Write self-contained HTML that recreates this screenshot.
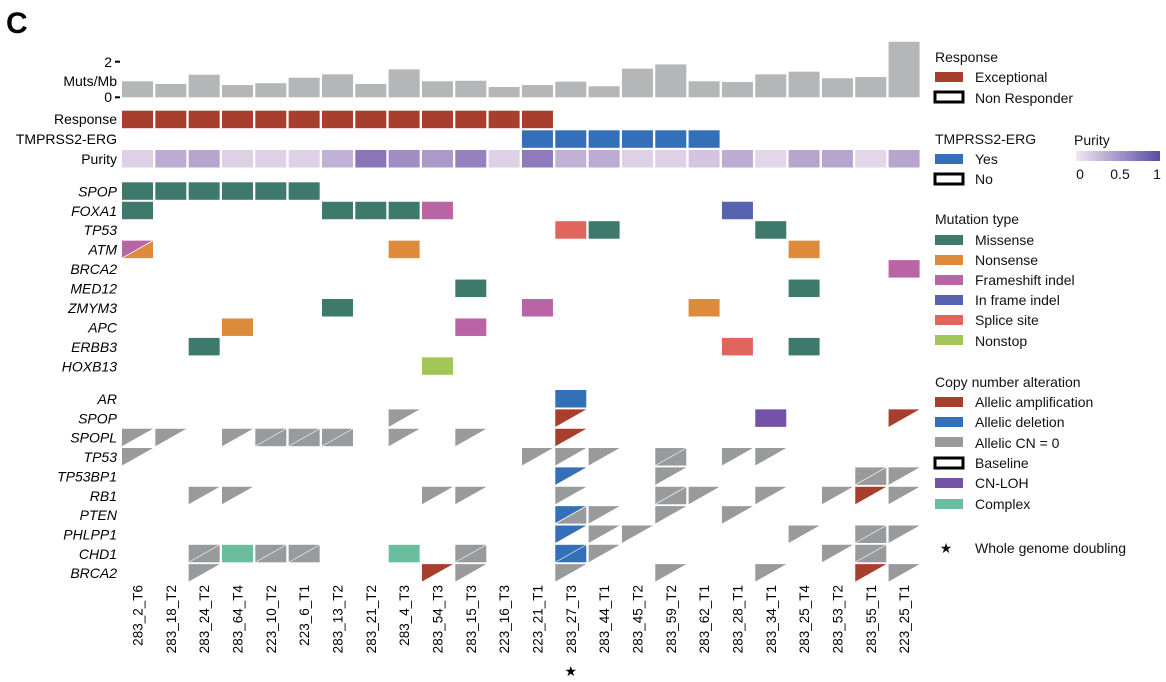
<!DOCTYPE html>
<html><head><meta charset="utf-8">
<style>
body{margin:0;background:#fff;}
svg{display:block;font-family:"Liberation Sans",Arial,sans-serif;}
</style></head>
<body>
<svg id="chart" width="1166" height="682" viewBox="0 0 1166 682" xmlns="http://www.w3.org/2000/svg">
<text x="6" y="33" font-size="30" font-weight="bold">C</text>
<g id="plot"></g>
<g id="legend" font-size="14" fill="#111">
  <text x="935" y="62">Response</text>
  <rect x="935" y="72" width="28" height="10" fill="#a83e2d"/>
  <text x="975" y="82">Exceptional</text>
  <rect x="935" y="92" width="28" height="10" fill="#fff" stroke="#000" stroke-width="3"/>
  <text x="975" y="103">Non Responder</text>

  <text x="935" y="144">TMPRSS2-ERG</text>
  <rect x="935" y="154" width="28" height="10" fill="#3470b8"/>
  <text x="975" y="164">Yes</text>
  <rect x="935" y="174" width="28" height="10" fill="#fff" stroke="#000" stroke-width="3"/>
  <text x="975" y="184">No</text>

  <text x="1074" y="145">Purity</text>
  <defs><linearGradient id="pg" x1="0" x2="1"><stop offset="0" stop-color="#f1e6f1"/><stop offset="1" stop-color="#5a4aa6"/></linearGradient></defs>
  <rect x="1076" y="151" width="84" height="10" fill="url(#pg)"/>
  <text x="1080" y="179" text-anchor="middle">0</text>
  <text x="1120" y="179" text-anchor="middle">0.5</text>
  <text x="1157" y="179" text-anchor="middle">1</text>

  <text x="935" y="224">Mutation type</text>
  <rect x="935" y="235" width="28" height="10" fill="#3d7a6b"/>
  <text x="975" y="245">Missense</text>
  <rect x="935" y="255" width="28" height="10" fill="#dd8a3a"/>
  <text x="975" y="265">Nonsense</text>
  <rect x="935" y="275" width="28" height="10" fill="#b964a4"/>
  <text x="975" y="285">Frameshift indel</text>
  <rect x="935" y="295" width="28" height="10" fill="#5661b0"/>
  <text x="975" y="305">In frame indel</text>
  <rect x="935" y="315" width="28" height="10" fill="#e0665d"/>
  <text x="975" y="325">Splice site</text>
  <rect x="935" y="335" width="28" height="10" fill="#a2c65a"/>
  <text x="975" y="346">Nonstop</text>

  <text x="935" y="387">Copy number alteration</text>
  <rect x="935" y="397" width="28" height="10" fill="#a83e2d"/>
  <text x="975" y="407">Allelic amplification</text>
  <rect x="935" y="417" width="28" height="10" fill="#3470b8"/>
  <text x="975" y="427">Allelic deletion</text>
  <rect x="935" y="437" width="28" height="10" fill="#999a9c"/>
  <text x="975" y="448">Allelic CN = 0</text>
  <rect x="935" y="458" width="28" height="10" fill="#fff" stroke="#000" stroke-width="3"/>
  <text x="975" y="468">Baseline</text>
  <rect x="935" y="478" width="28" height="10" fill="#7452a8"/>
  <text x="975" y="488">CN-LOH</text>
  <rect x="935" y="499" width="28" height="10" fill="#6bbda0"/>
  <text x="975" y="509">Complex</text>

  <text x="946" y="553" text-anchor="middle">★</text>
  <text x="975" y="553">Whole genome doubling</text>
</g>
</svg>
<script>
const samples=["283_2_T6","283_18_T2","283_24_T2","283_64_T4","223_10_T2","223_6_T1","283_13_T2","283_21_T2","283_4_T3","283_54_T3","283_15_T3","223_16_T3","223_21_T1","283_27_T3","283_44_T1","283_45_T2","283_59_T2","283_62_T1","283_28_T1","283_34_T1","283_25_T4","283_53_T2","283_55_T1","223_25_T1"];
const mutsPerMb=[0.9,0.75,1.27,0.69,0.79,1.1,1.29,0.75,1.57,0.9,0.93,0.58,0.69,0.88,0.62,1.61,1.85,0.9,0.86,1.29,1.44,1.07,1.14,3.12];
const responseExceptional=[1,1,1,1,1,1,1,1,1,1,1,1,1,0,0,0,0,0,0,0,0,0,0,0];
const tmprssYes=[0,0,0,0,0,0,0,0,0,0,0,0,1,1,1,1,1,1,0,0,0,0,0,0];
const purity=[0.15,0.45,0.5,0.15,0.15,0.15,0.4,0.9,0.7,0.6,0.8,0.15,0.85,0.4,0.45,0.15,0.15,0.25,0.45,0.1,0.5,0.5,0.1,0.5];
const wgd=[13];
const mutGenes=["SPOP","FOXA1","TP53","ATM","BRCA2","MED12","ZMYM3","APC","ERBB3","HOXB13"];
const mutations=[[0,0,"M"],[0,1,"M"],[0,2,"M"],[0,3,"M"],[0,4,"M"],[0,5,"M"],
[1,0,"M"],[1,6,"M"],[1,7,"M"],[1,8,"M"],[1,9,"F"],[1,18,"I"],
[2,13,"S"],[2,14,"M"],[2,19,"M"],
[3,0,"F","N"],[3,8,"N"],[3,20,"N"],
[4,23,"F"],
[5,10,"M"],[5,20,"M"],
[6,6,"M"],[6,12,"F"],[6,17,"N"],
[7,3,"N"],[7,10,"F"],
[8,2,"M"],[8,18,"S"],[8,20,"M"],
[9,9,"X"]];
const cnGenes=["AR","SPOP","SPOPL","TP53","TP53BP1","RB1","PTEN","PHLPP1","CHD1","BRCA2"];
const cnas=[[0,13,"B","B","solid"],
[1,8,"G"],[1,13,"R"],[1,19,"P","P"],[1,23,"R"],
[2,0,"G"],[2,1,"G"],[2,3,"G"],[2,4,"G","G"],[2,5,"G","G"],[2,6,"G","G"],[2,8,"G"],[2,10,"G"],[2,13,"R"],
[3,0,"G"],[3,12,"G"],[3,13,"G"],[3,14,"G"],[3,16,"G","G"],[3,18,"G"],[3,19,"G"],
[4,13,"B"],[4,16,"G"],[4,22,"G","G"],[4,23,"G"],
[5,2,"G"],[5,3,"G"],[5,9,"G"],[5,10,"G"],[5,13,"G"],[5,16,"G","G"],[5,17,"G"],[5,19,"G"],[5,21,"G"],[5,22,"R"],[5,23,"G"],
[6,13,"B","G"],[6,14,"G"],[6,16,"G"],[6,18,"G"],
[7,13,"B"],[7,14,"G"],[7,15,"G"],[7,20,"G"],[7,22,"G","G"],[7,23,"G"],
[8,2,"G","G"],[8,3,"T","T"],[8,4,"G","G"],[8,5,"G","G"],[8,8,"T","T"],[8,10,"G","G"],[8,13,"B","B"],[8,14,"G"],[8,21,"G"],[8,22,"G","G"],
[9,2,"G"],[9,9,"R"],[9,10,"G"],[9,13,"G"],[9,16,"G"],[9,19,"G"],[9,22,"R"],[9,23,"G"]];

const mutCol={M:"#3d7a6b",N:"#dd8a3a",F:"#b964a4",I:"#5661b0",S:"#e0665d",X:"#a2c65a"};
const cnCol={G:"#999a9c",R:"#a83e2d",B:"#3470b8",P:"#7452a8",T:"#6bbda0"};
const NS="http://www.w3.org/2000/svg";
const g=document.getElementById("plot");
const X0=122,PITCH=33.33,CW=31;
const xPos=i=>X0+i*PITCH;
const barBase=97.3,barScale=17.8;
const yBar=v=>barBase-v*barScale;
const mutTop=182.3,mutPitch=19.45,cnTop=390,cnPitch=19.35,CH=17.5;
function el(t,a,txt){const e=document.createElementNS(NS,t);for(const k in a)e.setAttribute(k,a[k]);if(txt!==undefined)e.textContent=txt;g.appendChild(e);return e;}
function lab(y,t,italic,name){const e=el("text",{x:117,y:y,"text-anchor":"end","font-size":14,"font-style":italic?"italic":"normal"},t);

}
function purCol(p){const a=[238,226,238],b=[128,104,178];return "rgb("+a.map((c,i)=>Math.round(c+(b[i]-c)*p)).join(",")+")";}

el("text",{x:112,y:67,"text-anchor":"end","font-size":14},"2");
el("text",{x:112,y:102,"text-anchor":"end","font-size":14},"0");
el("line",{x1:115,x2:120,y1:yBar(2),y2:yBar(2),stroke:"#000","stroke-width":2});
el("line",{x1:115,x2:120,y1:yBar(0),y2:yBar(0),stroke:"#000","stroke-width":2});
lab(86,"Muts/Mb",false,"y-axis-title");
lab(124,"Response",false,"row-label-response");
lab(144,"TMPRSS2-ERG",false,"row-label-tmprss2");
lab(164,"Purity",false,"row-label-purity");

samples.forEach((s,i)=>{
  const x=xPos(i);
  const b=el("rect",{x:x,y:yBar(mutsPerMb[i]),width:CW,height:mutsPerMb[i]*barScale,fill:"#b4b6b8"});
  
  
  if(responseExceptional[i]){const r=el("rect",{x:x,y:110.7,width:CW,height:CH,fill:"#a83e2d"});
    
    }
  if(tmprssYes[i]){const r=el("rect",{x:x,y:130.3,width:CW,height:CH,fill:"#3470b8"});
    
    }
  const p=el("rect",{x:x,y:150,width:CW,height:CH,fill:purCol(purity[i])});
  
  
  const cx=x+CW/2+5;
  const t=el("text",{x:0,y:0,transform:"translate("+cx+",585) rotate(-90)","text-anchor":"end","font-size":13.5},s);
  
  
});
wgd.forEach(i=>{const t=el("text",{x:xPos(i)+CW/2,y:676,"text-anchor":"middle","font-size":14},"★");
  
  });

mutGenes.forEach((gn,j)=>lab(mutTop+j*mutPitch+14,gn,true,"mut-gene-label"));
cnGenes.forEach((gn,j)=>lab(cnTop+j*cnPitch+14,gn,true,"cn-gene-label"));

function drawCell(x,y,a,b,cols,name,solid){
  if(b===undefined){
    const t=el("polygon",{points:`${x},${y} ${x+CW},${y} ${x},${y+CH}`,fill:cols[a]});
    
    
  }else if(a===b){
    const r=el("rect",{x:x,y:y,width:CW,height:CH,fill:cols[a]});
    
    
    if(!solid&&(a==="G"||a==="B"))el("line",{x1:x+CW,y1:y,x2:x,y2:y+CH,stroke:"#fff","stroke-width":0.8,opacity:0.8});
  }else{
    const t1=el("polygon",{points:`${x},${y} ${x+CW},${y} ${x},${y+CH}`,fill:cols[a]});
    
    
    const t2=el("polygon",{points:`${x+CW},${y} ${x+CW},${y+CH} ${x},${y+CH}`,fill:cols[b]});
    
    
    el("line",{x1:x+CW,y1:y,x2:x,y2:y+CH,stroke:"#fff","stroke-width":0.8});
  }
}
mutations.forEach(m=>{
  const x=xPos(m[1]),y=mutTop+m[0]*mutPitch;
  drawCell(x,y,m[2],m[3]===undefined?m[2]:m[3],mutCol,"mutation-cell",true);
});
cnas.forEach(c=>{
  const x=xPos(c[1]),y=cnTop+c[0]*cnPitch;
  drawCell(x,y,c[2],c[3],cnCol,"cna-cell",c[4]==="solid");
});
</script>
</body></html>
